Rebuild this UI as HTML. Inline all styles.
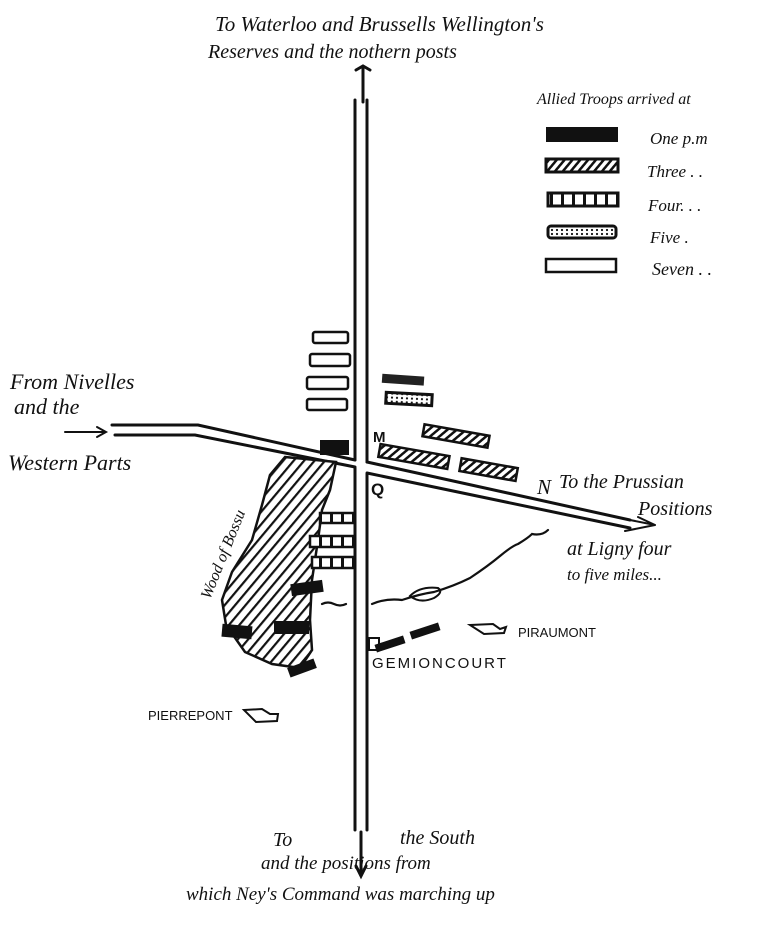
<!DOCTYPE html>
<html><head><meta charset="utf-8"><style>
html,body{margin:0;padding:0;background:#fff;}
svg{display:block}
text{font-family:"Liberation Serif",serif;font-style:italic;fill:#111;}
.c{font-family:"Liberation Sans",sans-serif;font-style:normal;}
</style></head><body>
<svg width="768" height="926" viewBox="0 0 768 926" xmlns="http://www.w3.org/2000/svg">
<defs>
<pattern id="hw" width="8" height="8" patternUnits="userSpaceOnUse" patternTransform="rotate(40)">
<rect width="8" height="8" fill="#fff"/><rect width="2.2" height="8" fill="#111"/></pattern>
<pattern id="hb" width="6" height="6" patternUnits="userSpaceOnUse" patternTransform="rotate(40)">
<rect width="6" height="6" fill="#fff"/><rect width="2.5" height="6" fill="#111"/></pattern>
<pattern id="four" width="11" height="12" patternUnits="userSpaceOnUse">
<rect width="11" height="12" fill="#fff"/><rect width="3" height="12" fill="#111"/></pattern>
<pattern id="dots" width="5" height="4" patternUnits="userSpaceOnUse">
<rect width="5" height="4" fill="#fff"/><circle cx="2" cy="2" r="1.1" fill="#111"/></pattern>
</defs>
<g stroke="#111" stroke-width="3" fill="none" stroke-linecap="round">
<line x1="363" y1="68" x2="363" y2="102"/>
<path d="M355 100 L355 460"/><path d="M367 100 L367 462"/>
<path d="M355 468 L355 830"/><path d="M367 474 L367 830"/>
<path d="M356 70 L363 66 L370 70"/>
<line x1="361" y1="832" x2="361" y2="874"/>
<path d="M356 866 L361 876 L366 866" />
<path d="M112 425 L198 425 L355 460"/>
<path d="M115 435 L195 435 L355 467"/>
<line x1="65" y1="432" x2="105" y2="432" stroke-width="2"/>
<path d="M97 427 L106 432 L97 437" stroke-width="2"/>
<path d="M367 462 L630 520"/>
<path d="M367 473 L630 528"/>
<path d="M630 520 L655 525 M625 531 L655 525 M638 517 L655 525" stroke-width="2"/>
<path d="M322 604 q6 -3 12 0 q6 3 12 0 M372 604 q14 -6 30 -4 q18 -6 32 -8 q20 -6 36 -14 q18 -12 30 -22 q12 -10 18 -12 q10 -6 14 -10 q10 2 16 -4" stroke-width="2.2"/>
<path d="M410 596 q10 -10 28 -8 q6 4 -4 10 q-14 6 -24 -2z" stroke-width="2"/>
</g>
<path d="M285 457 L336 462 L330 490 L322 510 L318 540 L312 580 L310 620 L312 650 L300 668 L272 664 L245 652 L226 625 L222 600 L232 572 L252 540 L262 505 L270 475 Z" fill="url(#hw)" stroke="#111" stroke-width="2.5"/>
<text x="537" y="104" font-size="16">Allied Troops arrived at</text>
<rect x="546" y="127" width="72" height="15" fill="#111"/>
<rect x="546" y="159" width="72" height="13" fill="url(#hb)" stroke="#111" stroke-width="3"/>
<rect x="548" y="193" width="70" height="13" fill="url(#four)" stroke="#111" stroke-width="3"/>
<rect x="548" y="226" width="68" height="12" fill="url(#dots)" stroke="#111" stroke-width="3" rx="3"/>
<rect x="546" y="259" width="70" height="13" fill="#fff" stroke="#111" stroke-width="2.5"/>
<text x="650" y="144" font-size="17">One p.m</text>
<text x="647" y="177" font-size="17">Three . .</text>
<text x="648" y="211" font-size="17">Four. . .</text>
<text x="650" y="243" font-size="17">Five  .</text>
<text x="652" y="275" font-size="18">Seven . .</text>
<g fill="#fff" stroke="#111" stroke-width="2.5">
<rect x="313" y="332" width="35" height="11" rx="2"/>
<rect x="310" y="354" width="40" height="12" rx="2"/>
<rect x="307" y="377" width="41" height="12" rx="2"/>
<rect x="307" y="399" width="40" height="11" rx="2"/>
</g>
<rect x="382" y="375" width="42" height="9" fill="#222" transform="rotate(4 400 380)"/>
<rect x="386" y="393" width="46" height="11" fill="url(#dots)" stroke="#111" stroke-width="3" transform="rotate(3 400 398)"/>
<g fill="url(#hb)" stroke="#111" stroke-width="2.5">
<rect x="423" y="430" width="66" height="12" transform="rotate(10 456 436)"/>
<rect x="379" y="450" width="70" height="13" transform="rotate(10 414 456)"/>
<rect x="460" y="463" width="57" height="13" transform="rotate(10 488 470)"/>
</g>
<g fill="url(#four)" stroke="#111" stroke-width="2.5">
<rect x="320" y="513" width="34" height="10"/>
<rect x="310" y="536" width="44" height="11"/>
<rect x="312" y="557" width="42" height="11"/>
</g>
<g fill="#111">
<rect x="320" y="440" width="29" height="15"/>
<rect x="291" y="582" width="32" height="12" transform="rotate(-8 307 588)"/>
<rect x="222" y="625" width="30" height="13" transform="rotate(5 237 631)"/>
<rect x="274" y="621" width="35" height="13"/>
<rect x="288" y="663" width="28" height="10" transform="rotate(-20 302 668)"/>
<rect x="375" y="640" width="30" height="8" transform="rotate(-18 390 644)"/>
<rect x="410" y="627" width="30" height="8" transform="rotate(-18 425 631)"/>
</g>
<rect x="369" y="638" width="10" height="12" fill="none" stroke="#111" stroke-width="2"/>
<path d="M470 625 L493 624 L500 629 L506 627 L504 633 L484 634 Z" fill="#fff" stroke="#111" stroke-width="2"/>
<path d="M244 710 L262 709 L270 714 L278 714 L277 721 L256 722 Z" fill="#fff" stroke="#111" stroke-width="2"/>
<text x="215" y="31" font-size="21">To  Waterloo  and Brussells Wellington's</text>
<text x="208" y="58" font-size="20">Reserves and the nothern posts</text>
<text x="10" y="389" font-size="22">From Nivelles</text>
<text x="14" y="414" font-size="22">and the</text>
<text x="8" y="470" font-size="22">Western  Parts</text>
<text class="c" x="373" y="442" font-size="15" font-weight="bold">M</text>
<text class="c" x="371" y="495" font-size="17" font-weight="bold">Q</text>
<text x="537" y="494" font-size="21">N</text>
<text x="559" y="488" font-size="20">To the Prussian</text>
<text x="638" y="515" font-size="20">Positions</text>
<text x="567" y="555" font-size="20">at Ligny  four</text>
<text x="567" y="580" font-size="17">to five miles...</text>
<text x="0" y="0" font-size="16" transform="translate(210 600) rotate(-68)">Wood of Bossu</text>
<text class="c" x="518" y="637" font-size="13">PIRAUMONT</text>
<text class="c" x="372" y="668" font-size="15" letter-spacing="2">GEMIONCOURT</text>
<text class="c" x="148" y="720" font-size="13">PIERREPONT</text>
<text x="273" y="846" font-size="20">To</text>
<text x="400" y="844" font-size="20">the South</text>
<text x="261" y="869" font-size="19">and the   positions from</text>
<text x="186" y="900" font-size="19">which Ney's Command was marching up</text>
</svg>
</body></html>
